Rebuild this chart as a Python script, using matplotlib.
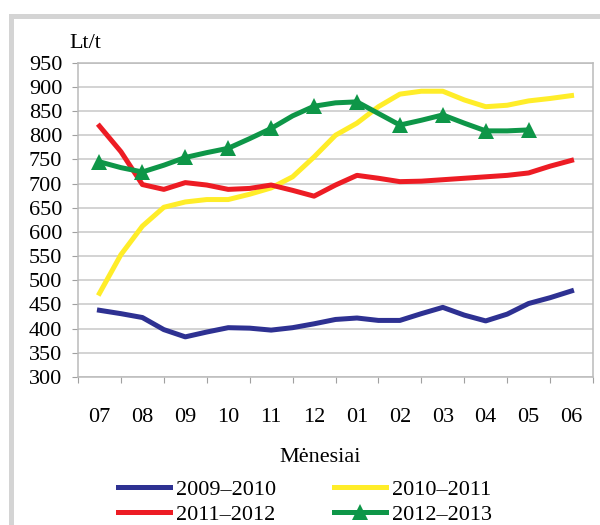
import numpy as np
import matplotlib
matplotlib.use("Agg")
import matplotlib.pyplot as plt
from matplotlib.patches import Rectangle

plt.rcParams['font.family'] = ['Liberation Serif', 'DejaVu Serif']

months = ["07", "08", "09", "10", "11", "12", "01", "02", "03", "04", "05", "06"]

# prices, read twice a month (month start + mid-month)
s2009_2010 = [438, 431, 423, 398, 383, 393, 402, 401, 397, 402, 410, 419,
              422, 417, 417, 431, 444, 428, 416, 430, 452, 464, 478]
s2010_2011 = [473, 553, 612, 651, 662, 667, 667, 678, 691, 714, 755, 800,
              825, 859, 885, 891, 891, 873, 859, 862, 871, 876, 882]
s2011_2012 = [819, 766, 698, 688, 702, 697, 688, 690, 697, 686, 674, 697,
              717, 711, 704, 705, 708, 711, 714, 717, 722, 736, 748]
s2012_2013 = [745, 733, 724, 738, 754, 764, 773, 793, 814, 840, 860, 867,
              869, 845, 821, 831, 842, 825, 809, 809, 811]

series = [
    ("2009–2010", s2009_2010, "#2E3192", None),
    ("2010–2011", s2010_2011, "#FFED29", None),
    ("2011–2012", s2011_2012, "#ED1C24", None),
    ("2012–2013", s2012_2013, "#0E9648", "^"),
]

fs = 16
fig = plt.figure(figsize=(6, 5.25), dpi=100)
W, H = 600, 525
ax = fig.add_axes([78 / W, 1 - 377 / H, (593 - 78) / W, (377 - 62.7) / H])

handles = {}
for name, vals, color, marker in series:
    x = np.arange(len(vals)) / 2
    line, = ax.plot(x, vals, color=color, lw=3.6, marker=marker, markevery=2,
                    markersize=11, markeredgewidth=0, solid_joinstyle="round",
                    label=name, zorder=3)
    handles[name] = line

ax.set_xlim(-0.5, 11.5)
ax.set_ylim(300, 950)
ax.set_yticks(np.arange(300, 951, 50))
ax.grid(axis="y", color="#C8C8C8", lw=1.1)
ax.set_axisbelow(True)

ax.set_xticks(np.arange(-0.5, 12, 1))
ax.set_xticklabels([])
ax.set_xticks(np.arange(12), minor=True)
ax.set_xticklabels(months, minor=True)
ax.tick_params(axis="x", which="minor", length=0, pad=22, labelsize=fs)
ax.tick_params(axis="x", which="major", length=4.5, color="#A0A0A0", direction="out")
ax.tick_params(axis="y", length=4.3, color="#A0A0A0", pad=7, labelsize=fs)

for sp in ax.spines.values():
    sp.set_color("#BBBBBB")
    sp.set_linewidth(1.1)

fig.text(85 / W, 1 - 44 / H, "Lt/t", ha="center", va="center", fontsize=fs)
fig.text(320 / W, 1 - 457 / H, "Mėnesiai", ha="center", va="center", fontsize=fs)

order = ["2009–2010", "2011–2012", "2010–2011", "2012–2013"]
fig.legend([handles[n] for n in order], order, ncol=2, loc="upper left",
           bbox_to_anchor=(118 / W, 1 - 479 / H), frameon=False, fontsize=fs,
           handlelength=2.35, handletextpad=0.27, columnspacing=2.58,
           labelspacing=0.22, borderpad=0, borderaxespad=0)

# grey frame around the chart
fig.patches.append(Rectangle((10.5 / W, -0.1), 1.2, 1 - 15.5 / H + 0.1,
                             transform=fig.transFigure, fill=False,
                             edgecolor="#D4D4D4", lw=3.6, zorder=0))

fig.savefig("out.png", dpi=100)
